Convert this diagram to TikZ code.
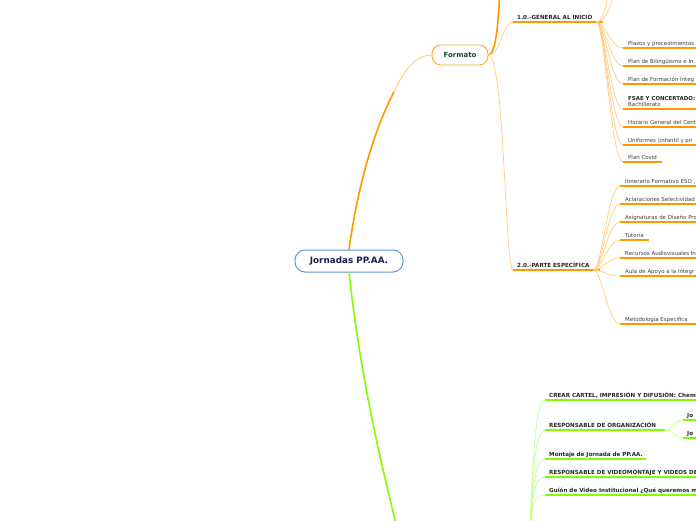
\documentclass[tikz,border=0pt]{standalone}
\usepackage{fontspec}
\setmainfont{DejaVu Sans}
\definecolor{orangemain}{RGB}{255,153,0}
\definecolor{orangelight}{RGB}{255,204,130}
\definecolor{greenmain}{RGB}{128,255,0}
\definecolor{greenlight}{RGB}{195,255,140}
\definecolor{rootblue}{RGB}{91,155,213}
\definecolor{rootink}{RGB}{22,32,80}
\definecolor{fmtink}{RGB}{22,72,52}
\definecolor{labelink}{RGB}{60,60,60}

\begin{document}
\begin{tikzpicture}[x=1pt, y=-1pt,
  root/.style={draw=rootblue, line width=1pt, rounded corners=10pt, fill=white,
    minimum width=108pt, minimum height=22pt, text=rootink,
    font=\fontsize{8.8}{10}\selectfont\bfseries},
  fmt/.style={draw=orangemain!85, line width=0.9pt, rounded corners=9pt, fill=white,
    minimum width=56pt, minimum height=20pt, text=fmtink,
    font=\fontsize{7}{8}\selectfont\bfseries},
  topic/.style={anchor=south west, inner xsep=5pt, inner ysep=2.5pt, text depth=0pt,
    align=left, text=labelink, font=\fontsize{5.45}{6.2}\selectfont},
  head/.style={topic, inner xsep=4pt, text=black!85,
    font=\fontsize{5.6}{6.2}\selectfont\bfseries},
  ounder/.style={draw=orangemain, line width=1.4pt},
  gunder/.style={draw=greenmain, line width=1.4pt},
  othin/.style={draw=orangelight, line width=0.7pt},
  gthin/.style={draw=greenlight, line width=0.7pt}]
  \useasboundingbox (0,0) rectangle (696,520);
  \clip (0,0) rectangle (696,520);

  \node[root] (root) at (349,261) {Jornadas PP.AA.};
  \node[fmt] (fmt) at (460,55) {Formato};
  \coordinate (fbend) at (394,92);
  \coordinate (ftop) at (500,-15);
  \coordinate (gdown) at (405,560);
  \coordinate (gsub) at (528,560);
  \coordinate (orgend) at (665,430);

  % main branches
  \draw[orangemain, line width=1.6pt] (root.north) .. controls (360,170) and (380,118) .. (fbend);
  \draw[othin, line width=0.9pt] (fbend) .. controls (406,66) and (418,55) .. (fmt.west);
  \draw[orangemain, line width=1.6pt] (fmt.east) .. controls +(8,0) and +(-1,30) .. (ftop);
  \draw[greenmain, line width=1.6pt] (root.south) .. controls (362,390) and (385,480) .. (gdown);

  % 1.0
  \node[head] (gen) at (513,22) {1.0.-GENERAL AL INICIO};
  \draw[ounder] (gen.south west) -- ++(90,0);
  \draw[othin] (fmt.east) .. controls +(12,0) and +(-10,0) .. (gen.south west);
  \draw[othin] (gen.south east) .. controls +(5,0) and +(0,15) .. (608,-10);
  \draw[othin] (gen.south east) .. controls +(8,0) and +(0,15) .. (613,-10);
  \foreach \n/\y/\w/\t in {a/48/80/{Plazos y procedimientos},
      b/66/80/{Plan de Bilingüismo e In}, c/84/80/{Plan de Formación Integ},
      d/109/80/{\textbf{\color{black!85}FSAE Y CONCERTADO:}\\Bachillerato},
      e/127/80/{Horario General del Cent}, f/145/80/{Uniformes (infantil y pri},
      g/162/39/{Plan Covid}}{
    \node[topic] (g\n) at (623,\y) {\t};
    \draw[ounder] (g\n.south west) -- ++(\w,0);
    \draw[othin] (gen.south east) .. controls +(8,0) and +(-12,0) .. (g\n.south west);
  }

  % 2.0
  \node[head] (esp) at (513,270) {2.0.-PARTE ESPECÍFICA};
  \draw[ounder] (esp.south west) -- ++(87,0);
  \draw[othin] (fmt.east) .. controls +(16,0) and +(-8,0) .. (esp.south west);
  \foreach \n/\y/\w/\t in {a/186/80/{Itinerario Formativo ESO ,},
      b/204/80/{Aclaraciones Selectividad}, c/222/80/{Asignaturas de Diseño Pro},
      d/240/29/{Tutoría}, e/258/80/{Recursos Audiovisuales In},
      f/276/80/{Aula de Apoyo a la Integr}, g/324/80/{Metodología Específica}}{
    \node[topic] (e\n) at (620,\y) {\t};
    \draw[ounder] (e\n.south west) -- ++(\w,0);
    \draw[othin] (esp.south east) .. controls +(8,0) and +(-12,0) .. (e\n.south west);
  }

  % green branch
  \foreach \n/\y/\w/\t in {a/400/160/{CREAR CARTEL, IMPRESIÓN Y DIFUSIÓN: Chem},
      b/430/120/{RESPONSABLE DE ORGANIZACIÓN}, c/459/101/{Montaje de Jornada de PP.AA.},
      d/477/160/{RESPONSABLE DE VIDEOMONTAJE Y VIDEOS DE},
      e/495/160/{Guión de Video Institucional ¿Qué queremos m}}{
    \node[head] (c\n) at (545,\y) {\t};
    \draw[gunder] (c\n.south west) -- ++(\w,0);
    \draw[gthin] (gsub) .. controls +(4,-60) and +(-12,0) .. (c\n.south west);
  }
  \foreach \n/\y in {a/420, b/438}{
    \node[head] (jo\n) at (683,\y) {Jo};
    \draw[gunder] (jo\n.south west) -- ++(20,0);
    \draw[gthin] (orgend) .. controls +(9,0) and +(-9,0) .. (jo\n.south west);
  }
\end{tikzpicture}
\end{document}
